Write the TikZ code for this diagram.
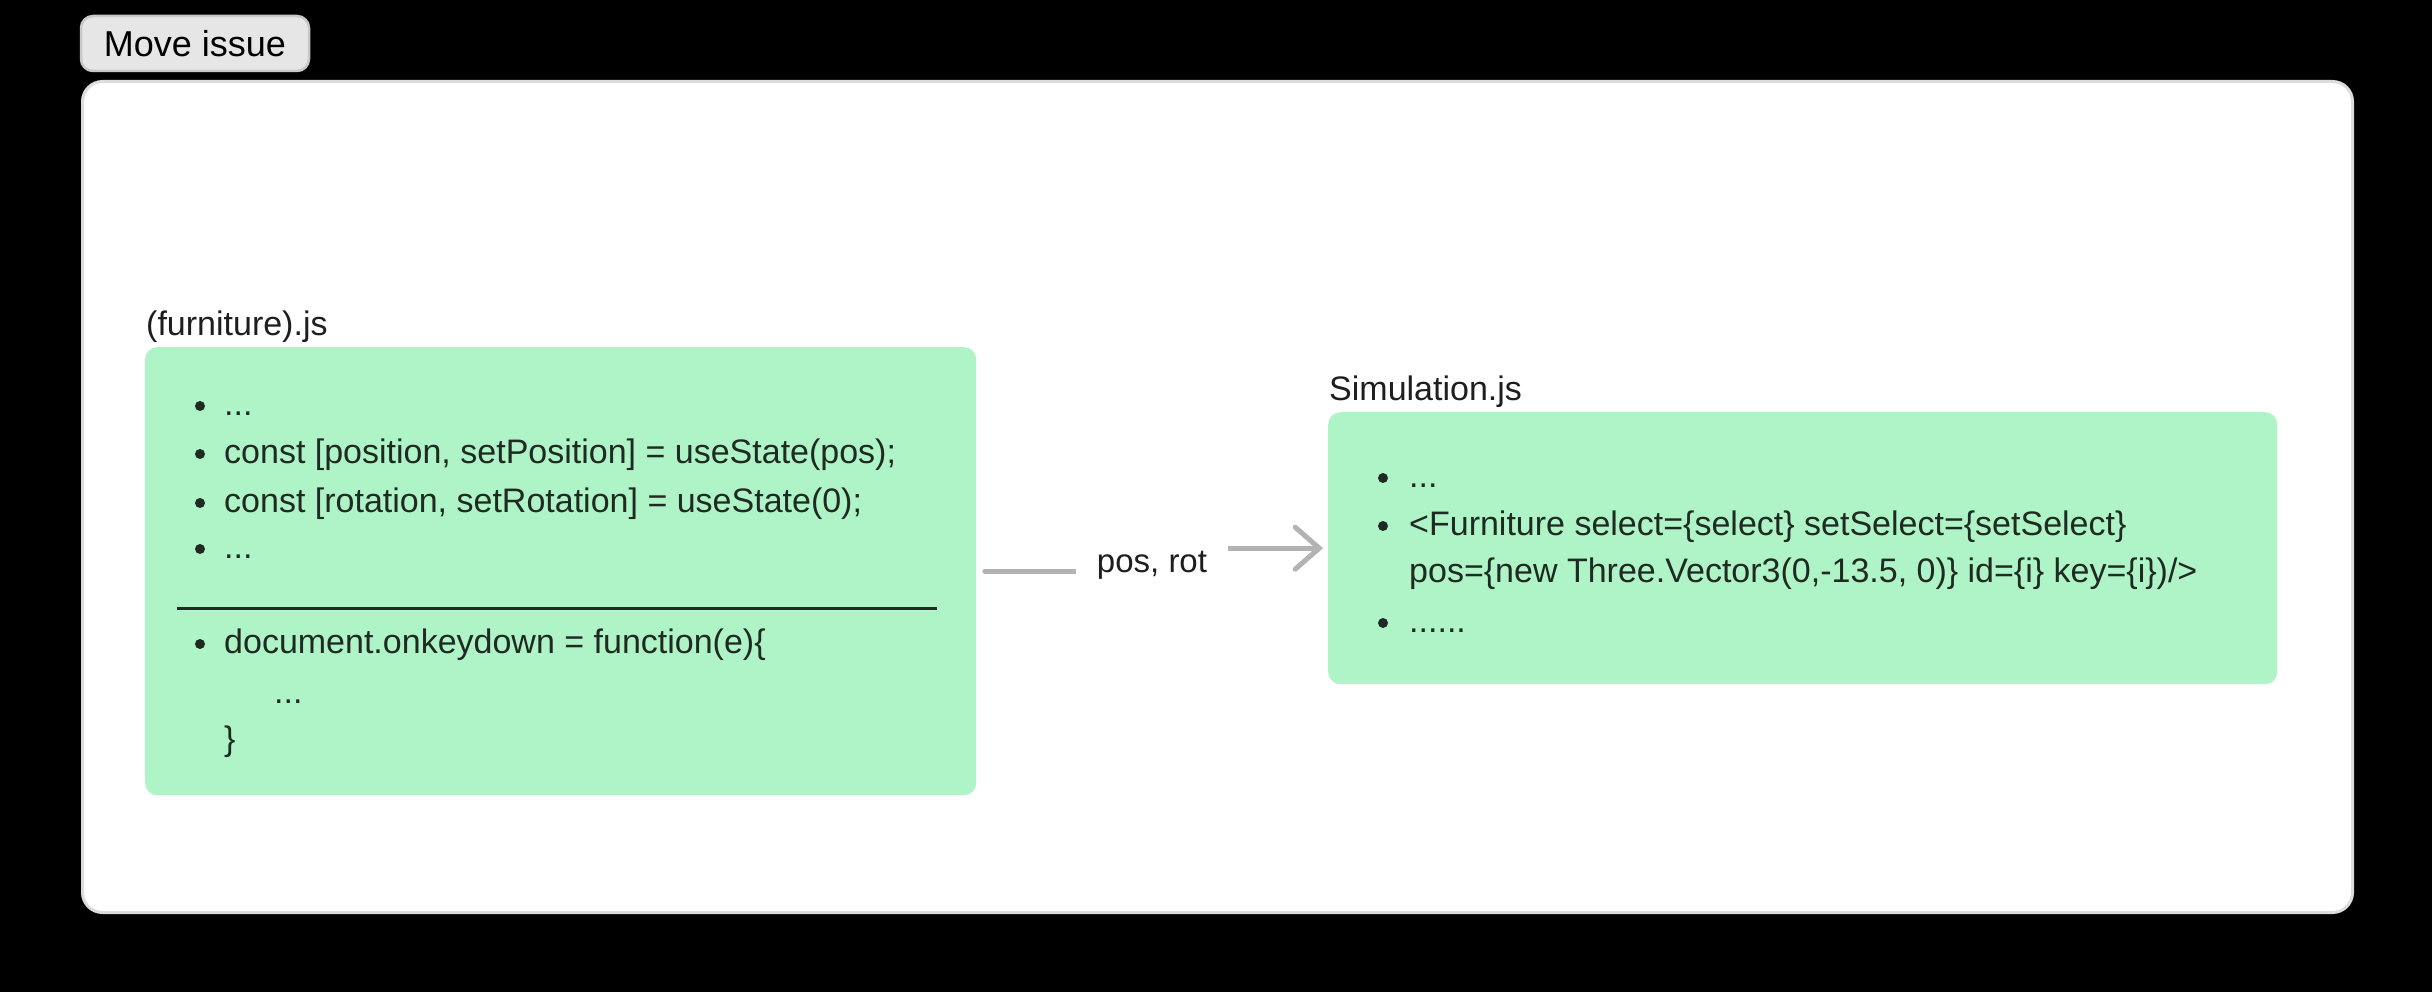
\documentclass[tikz,border=0pt]{standalone}
\usepackage{fontspec}
\setmainfont{Liberation Sans}
\usetikzlibrary{arrows.meta}
\definecolor{panelborder}{HTML}{DCDCDC}
\definecolor{boxgreen}{HTML}{AFF4C6}
\definecolor{txt}{HTML}{1E1E1E}
\definecolor{boxtxt}{HTML}{1F2A23}
\definecolor{conngray}{HTML}{B3B3B3}
\definecolor{btnfill}{HTML}{E6E6E6}
\definecolor{btnborder}{HTML}{C8C8C8}
\begin{document}
\begin{tikzpicture}[x=1pt,y=-1pt,
  body/.style={font=\fontsize{34}{41}\selectfont, text=boxtxt, inner sep=0pt, anchor=base west},
  filetitle/.style={font=\fontsize{34}{41}\selectfont, text=txt, inner sep=0pt, anchor=base west},
  greenbox/.style={fill=boxgreen, rounded corners=12pt, inner sep=0pt, anchor=north west},
  bul/.style={fill=boxtxt},
  conn/.style={draw=conngray, line width=5pt, line cap=round},
]
\fill[black] (0,0) rectangle (2432,992);
\useasboundingbox (0,0) rectangle (2432,992);

% header button
\node[draw=btnborder, fill=btnfill, line width=2.5pt, rounded corners=12pt,
      minimum width=228pt, minimum height=55pt, inner sep=0pt,
      font=\fontsize{36}{43}\selectfont, text=black] (btn) at (195,43.5) {Move issue};

% panel
\node[draw=panelborder, fill=white, line width=3pt, rounded corners=20pt,
      minimum width=2270pt, minimum height=831pt, anchor=north west, inner sep=0pt] (panel) at (81,80) {};

% left file
\node[filetitle] (ltitle) at (146,335) {(furniture).js};
\node[greenbox, minimum width=831pt, minimum height=448pt] (lbox) at (145,347) {};
\node[body] (l1) at (224,415) {...};
\node[body] (l2) at (224,463) {const [position, setPosition] = useState(pos);};
\node[body] (l3) at (224,512) {const [rotation, setRotation] = useState(0);};
\node[body] (l4) at (224,558) {...};
\node[body] (l5) at (224,653) {document.onkeydown = function(e)\{};
\node[body] (l6) at (274,703) {...};
\node[body] (l7) at (224,750) {\}};
\foreach \y in {415,463,512,558,653} \fill[bul] (200,\y-9) circle (5pt);
\coordinate (divA) at (177,608);
\coordinate (divB) at (937,608);
\draw[draw=boxtxt, line width=3pt] (divA) -- (divB);

% right file
\node[filetitle] (rtitle) at (1329,400) {Simulation.js};
\node[greenbox, minimum width=949pt, minimum height=272pt] (rbox) at (1328,412) {};
\node[body] (r1) at (1409,487) {...};
\node[body] (r2) at (1409,535) {<Furniture select=\{select\} setSelect=\{setSelect\}};
\node[body] (r3) at (1409,582) {pos=\{new Three.Vector3(0,-13.5, 0)\} id=\{i\} key=\{i\})/>};
\node[body] (r4) at (1409,632) {......};
\foreach \y in {487,535,632} \fill[bul] (1383,\y-9) circle (5pt);

% connector
\coordinate (mid) at (1152,560);
\draw[conn, -{Straight Barb[length=24pt,width=42pt,line cap=round]}]
  ([xshift=8.5pt]lbox.east) -| (mid) |- ([xshift=-5pt]rbox.west);
\node[fill=white, inner xsep=21pt, inner ysep=6pt, font=\fontsize{33}{40}\selectfont,
      text=txt, anchor=base] (lbl) at (1152,572) {pos, rot};
\end{tikzpicture}
\end{document}
